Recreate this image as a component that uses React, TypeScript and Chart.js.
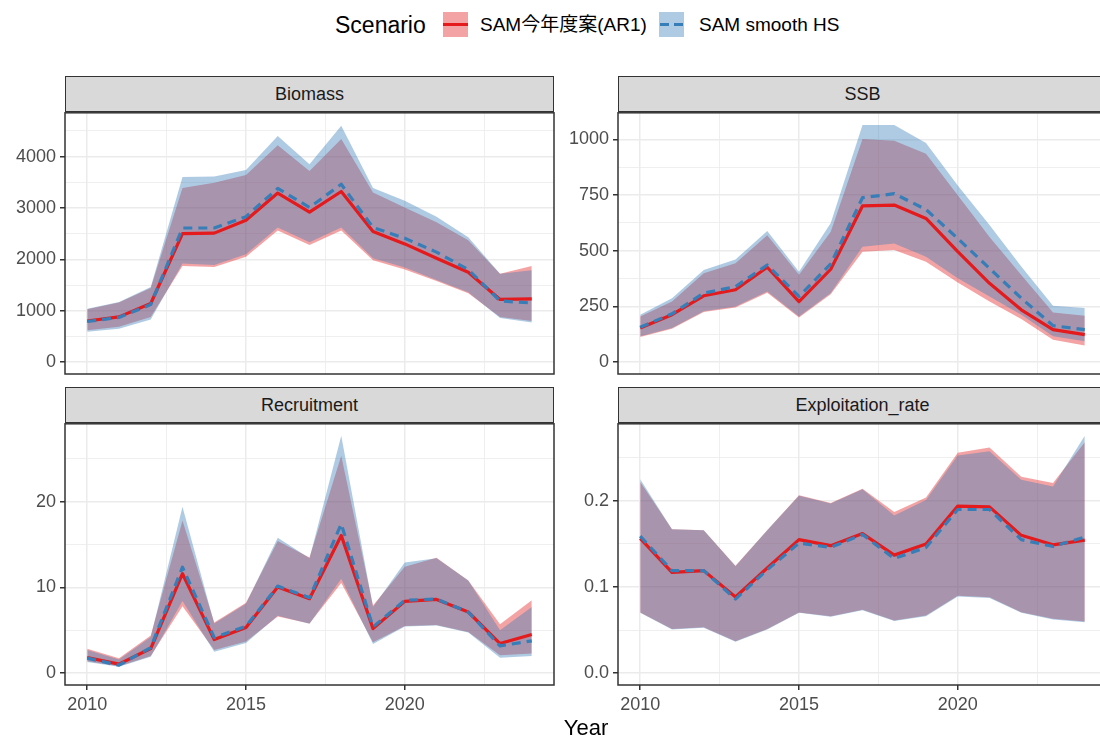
import React, { useEffect, useRef } from 'react';
import { Chart, registerables } from 'chart.js';
Chart.register(...registerables);

const years = [2010, 2011, 2012, 2013, 2014, 2015, 2016, 2017, 2018, 2019, 2020, 2021, 2022, 2023, 2024];

const scenarioLabels = ['SAM今年度案(AR1)', 'SAM smooth HS'];

// Biomass
const biomassAR1 = [800, 880, 1140, 2500, 2510, 2760, 3290, 2920, 3320, 2540, 2300, 2020, 1750, 1220, 1230];
const biomassAR1Hi = [1030, 1160, 1440, 3390, 3490, 3640, 4220, 3720, 4340, 3300, 3010, 2720, 2370, 1720, 1870];
const biomassAR1Lo = [620, 690, 880, 1870, 1850, 2050, 2560, 2280, 2560, 1980, 1800, 1580, 1340, 880, 800];
const biomassHS = [790, 870, 1120, 2610, 2610, 2830, 3380, 3010, 3460, 2620, 2410, 2140, 1800, 1190, 1150];
const biomassHSHi = [1040, 1170, 1460, 3600, 3610, 3740, 4400, 3850, 4600, 3390, 3140, 2830, 2430, 1720, 1790];
const biomassHSLo = [590, 650, 830, 1920, 1890, 2100, 2620, 2330, 2620, 2020, 1840, 1600, 1360, 860, 770];

// SSB
const ssbAR1 = [153, 213, 298, 325, 426, 272, 417, 701, 705, 645, 496, 354, 235, 146, 124];
const ssbAR1Hi = [205, 272, 399, 444, 570, 392, 585, 1002, 994, 935, 749, 562, 391, 223, 208];
const ssbAR1Lo = [113, 150, 225, 245, 312, 200, 305, 496, 503, 451, 357, 272, 194, 101, 75];
const ssbHS = [157, 217, 310, 339, 436, 295, 441, 738, 756, 685, 555, 421, 287, 164, 146];
const ssbHSHi = [213, 287, 414, 461, 589, 406, 625, 1064, 1064, 984, 793, 615, 429, 253, 243];
const ssbHSLo = [116, 153, 228, 250, 317, 205, 310, 518, 533, 473, 377, 295, 213, 116, 94];

// Recruitment
const recAR1 = [1.82, 1.05, 2.87, 11.6, 3.91, 5.31, 10.04, 8.68, 16.05, 5.19, 8.37, 8.6, 7.13, 3.45, 4.5];
const recAR1Hi = [2.85, 1.75, 4.4, 17.8, 5.9, 8.2, 15.4, 13.5, 25.35, 7.9, 12.4, 13.45, 10.8, 5.7, 8.5];
const recAR1Lo = [1.4, 0.8, 2.0, 7.8, 2.7, 3.7, 6.6, 5.8, 10.5, 3.6, 5.5, 5.6, 4.8, 2.1, 2.3];
const recHS = [1.75, 0.93, 2.98, 12.36, 4.15, 5.47, 10.15, 8.8, 17.4, 5.39, 8.49, 8.65, 7.13, 3.18, 3.76];
const recHSHi = [2.7, 1.6, 4.2, 19.4, 5.8, 8.1, 15.8, 13.4, 27.7, 7.7, 12.9, 13.4, 10.8, 5.0, 7.7];
const recHSLo = [1.3, 0.75, 1.9, 8.4, 2.5, 3.5, 6.7, 5.75, 11.0, 3.4, 5.45, 5.55, 4.75, 1.8, 2.0];

// Exploitation rate
const erAR1 = [0.1565, 0.117, 0.119, 0.0884, 0.122, 0.155, 0.148, 0.162, 0.137, 0.15, 0.194, 0.193, 0.16, 0.149, 0.1545];
const erAR1Hi = [0.222, 0.167, 0.166, 0.1246, 0.166, 0.2065, 0.1976, 0.214, 0.187, 0.204, 0.256, 0.262, 0.228, 0.2207, 0.268];
const erAR1Lo = [0.0705, 0.0512, 0.0532, 0.037, 0.0512, 0.0705, 0.066, 0.0735, 0.0612, 0.0668, 0.0898, 0.088, 0.0708, 0.063, 0.06];
const erHS = [0.159, 0.119, 0.119, 0.086, 0.12, 0.151, 0.146, 0.161, 0.133, 0.146, 0.19, 0.19, 0.155, 0.147, 0.158];
const erHSHi = [0.225, 0.167, 0.166, 0.124, 0.166, 0.206, 0.197, 0.2135, 0.183, 0.201, 0.2526, 0.2576, 0.2245, 0.2168, 0.2757];
const erHSLo = [0.07, 0.0507, 0.0527, 0.0365, 0.0507, 0.07, 0.0654, 0.073, 0.0604, 0.066, 0.089, 0.0873, 0.07, 0.0623, 0.0592];

// Axis ticks
const xMajorTicks = [2010, 2015, 2020];
const xMinorTicks = [2012.5, 2017.5, 2022.5];
const biomassTicks = [0, 1000, 2000, 3000, 4000];
const biomassMinor = [500, 1500, 2500, 3500, 4500];
const ssbTicks = [0, 250, 500, 750, 1000];
const ssbMinor = [125, 375, 625, 875];
const recTicks = [0, 10, 20];
const recMinor = [5, 15, 25];
const erTicks = [0, 0.1, 0.2];
const erMinor = [0.05, 0.15, 0.25];

const RED = '#E41A1C';
const BLUE = '#377EB8';
const RED_FILL = 'rgba(228,26,28,0.4)';
const BLUE_FILL = 'rgba(55,126,184,0.4)';
const FONT = '"Liberation Sans", Arial, "Noto Sans CJK JP", sans-serif';

const isIn = (v: number, arr: number[]) => arr.some((m) => Math.abs(m - v) < 1e-9);
const xy = (vals: number[]) => vals.map((v, i) => ({ x: years[i], y: v }));

const framePlugin = {
  id: 'frame',
  afterDraw(chart: any) {
    const { ctx, chartArea } = chart;
    ctx.save();
    ctx.strokeStyle = '#333333';
    ctx.lineWidth = 1.5;
    ctx.strokeRect(chartArea.left, chartArea.top, chartArea.right - chartArea.left, chartArea.bottom - chartArea.top);
    ctx.restore();
  },
};

type PanelProps = {
  title: string;
  L: number; T: number; R: number; B: number;
  showX: boolean;
  yMin: number; yMax: number;
  yMajor: number[]; yMinor: number[];
  fmt: (v: number) => string;
  ar1: number[]; ar1Hi: number[]; ar1Lo: number[];
  hs: number[]; hsHi: number[]; hsLo: number[];
};

const PAD_L = 62, PAD_T = 14, PAD_R = 14, AXIS_H = 40;

function Panel(p: PanelProps) {
  const ref = useRef<HTMLCanvasElement>(null);
  const w = p.R - p.L + PAD_L + PAD_R;
  const h = p.B - p.T + PAD_T + AXIS_H;
  useEffect(() => {
    if (!ref.current) return;
    const chart = new Chart(ref.current, {
      type: 'line',
      data: {
        datasets: [
          { data: xy(p.ar1Lo), borderWidth: 0, borderColor: 'rgba(0,0,0,0)', backgroundColor: 'rgba(0,0,0,0)', pointRadius: 0, fill: false, order: 6 },
          { data: xy(p.ar1Hi), borderWidth: 0, borderColor: 'rgba(0,0,0,0)', backgroundColor: RED_FILL, pointRadius: 0, fill: '-1', order: 6 },
          { data: xy(p.hsLo), borderWidth: 0, borderColor: 'rgba(0,0,0,0)', backgroundColor: 'rgba(0,0,0,0)', pointRadius: 0, fill: false, order: 4 },
          { data: xy(p.hsHi), borderWidth: 0, borderColor: 'rgba(0,0,0,0)', backgroundColor: BLUE_FILL, pointRadius: 0, fill: '-1', order: 4 },
          { label: scenarioLabels[0], data: xy(p.ar1), borderColor: RED, borderWidth: 3.2, pointRadius: 0, fill: false, order: 2, borderJoinStyle: 'round' },
          { label: scenarioLabels[1], data: xy(p.hs), borderColor: BLUE, borderWidth: 3.2, borderDash: [9, 6], pointRadius: 0, fill: false, order: 1, borderJoinStyle: 'round' },
        ] as any,
      },
      options: {
        animation: false,
        responsive: false,
        events: [],
        layout: { padding: { left: 0, top: PAD_T, right: PAD_R, bottom: 0 } },
        plugins: { legend: { display: false }, tooltip: { enabled: false } },
        scales: {
          x: {
            type: 'linear',
            min: 2009.3,
            max: 2024.7,
            afterBuildTicks: (s: any) => {
              s.ticks = [...xMajorTicks, ...xMinorTicks].sort((a, b) => a - b).map((v) => ({ value: v }));
            },
            afterFit: (s: any) => { s.height = AXIS_H; },
            ticks: {
              display: p.showX,
              autoSkip: false,
              maxRotation: 0,
              padding: 4,
              color: '#4D4D4D',
              font: { family: FONT, size: 18 },
              callback: (v: any) => (isIn(Number(v), xMajorTicks) ? String(v) : ''),
            },
            grid: {
              color: '#EBEBEB',
              lineWidth: (c: any) => (c.tick && isIn(c.tick.value, xMajorTicks) ? 1.5 : 0.8),
              drawTicks: p.showX,
              tickLength: 5,
              tickWidth: 1.5,
              tickColor: (c: any) => (c.tick && isIn(c.tick.value, xMajorTicks) ? '#333333' : 'rgba(0,0,0,0)'),
            },
            border: { display: false },
          },
          y: {
            type: 'linear',
            min: p.yMin,
            max: p.yMax,
            afterBuildTicks: (s: any) => {
              s.ticks = [...p.yMajor, ...p.yMinor].sort((a, b) => a - b).map((v) => ({ value: v }));
            },
            afterFit: (s: any) => { s.width = PAD_L; },
            ticks: {
              autoSkip: false,
              padding: 4,
              color: '#4D4D4D',
              font: { family: FONT, size: 18 },
              callback: (v: any) => (isIn(Number(v), p.yMajor) ? p.fmt(Number(v)) : ''),
            },
            grid: {
              color: '#EBEBEB',
              lineWidth: (c: any) => (c.tick && isIn(c.tick.value, p.yMajor) ? 1.5 : 0.8),
              tickLength: 5,
              tickWidth: 1.5,
              tickColor: (c: any) => (c.tick && isIn(c.tick.value, p.yMajor) ? '#333333' : 'rgba(0,0,0,0)'),
            },
            border: { display: false },
          },
        },
      } as any,
      plugins: [framePlugin],
    });
    return () => chart.destroy();
  }, []);
  return (
    <>
      <div
        style={{
          position: 'absolute', left: p.L, top: p.T - 36, width: p.R - p.L, height: 36,
          boxSizing: 'border-box', background: '#D9D9D9', border: '1.3px solid #333333',
          display: 'flex', alignItems: 'center', justifyContent: 'center',
          fontSize: 18, color: '#1A1A1A', fontFamily: FONT,
        }}
      >
        {p.title}
      </div>
      <canvas
        ref={ref}
        width={w}
        height={h}
        style={{ position: 'absolute', left: p.L - PAD_L, top: p.T - PAD_T, width: w, height: h }}
      />
    </>
  );
}

const textStyle = (left: number, top: number, size: number, lh: number): React.CSSProperties => ({
  position: 'absolute', left, top, fontSize: size, lineHeight: `${lh}px`, height: lh,
  whiteSpace: 'nowrap', color: '#000', fontFamily: FONT,
});

export default function App() {
  const C1L = 65, C1R = 554, C2L = 618, C2R = 1107;
  const R1T = 112, R1B = 374, R2T = 423, R2B = 685;
  return (
    <div style={{ position: 'fixed', left: 0, top: 0, width: 1100, height: 738, overflow: 'hidden', background: '#fff', fontFamily: FONT }}>
      {/* Legend */}
      <div style={textStyle(335, 10, 23, 30)}>Scenario</div>
      <div style={{ position: 'absolute', left: 443, top: 12, width: 25, height: 25, background: RED_FILL }}>
        <div style={{ position: 'absolute', left: 0, top: 11, width: 25, height: 3.2, background: RED }} />
      </div>
      <div style={textStyle(480, 10, 19, 30)}>{scenarioLabels[0]}</div>
      <div style={{ position: 'absolute', left: 659, top: 12, width: 25, height: 25, background: BLUE_FILL }}>
        <div style={{ position: 'absolute', left: 1, top: 11, width: 9, height: 3.2, background: BLUE }} />
        <div style={{ position: 'absolute', left: 15, top: 11, width: 9, height: 3.2, background: BLUE }} />
      </div>
      <div style={textStyle(699, 10, 19, 30)}>{scenarioLabels[1]}</div>

      <Panel title="Biomass" L={C1L} T={R1T} R={C1R} B={R1B} showX={false}
        yMin={-231} yMax={4851} yMajor={biomassTicks} yMinor={biomassMinor} fmt={(v) => String(v)}
        ar1={biomassAR1} ar1Hi={biomassAR1Hi} ar1Lo={biomassAR1Lo} hs={biomassHS} hsHi={biomassHSHi} hsLo={biomassHSLo} />
      <Panel title="SSB" L={C2L} T={R1T} R={C2R} B={R1B} showX={false}
        yMin={-53} yMax={1119} yMajor={ssbTicks} yMinor={ssbMinor} fmt={(v) => String(v)}
        ar1={ssbAR1} ar1Hi={ssbAR1Hi} ar1Lo={ssbAR1Lo} hs={ssbHS} hsHi={ssbHSHi} hsLo={ssbHSLo} />
      <Panel title="Recruitment" L={C1L} T={R2T} R={C1R} B={R2B} showX={true}
        yMin={-1.385} yMax={29.085} yMajor={recTicks} yMinor={recMinor} fmt={(v) => String(v)}
        ar1={recAR1} ar1Hi={recAR1Hi} ar1Lo={recAR1Lo} hs={recHS} hsHi={recHSHi} hsLo={recHSLo} />
      <Panel title="Exploitation_rate" L={C2L} T={R2T} R={C2R} B={R2B} showX={true}
        yMin={-0.0138} yMax={0.2895} yMajor={erTicks} yMinor={erMinor} fmt={(v) => v.toFixed(1)}
        ar1={erAR1} ar1Hi={erAR1Hi} ar1Lo={erAR1Lo} hs={erHS} hsHi={erHSHi} hsLo={erHSLo} />

      <div style={{ ...textStyle(486, 713, 22, 30), width: 200, textAlign: 'center' }}>Year</div>
    </div>
  );
}
